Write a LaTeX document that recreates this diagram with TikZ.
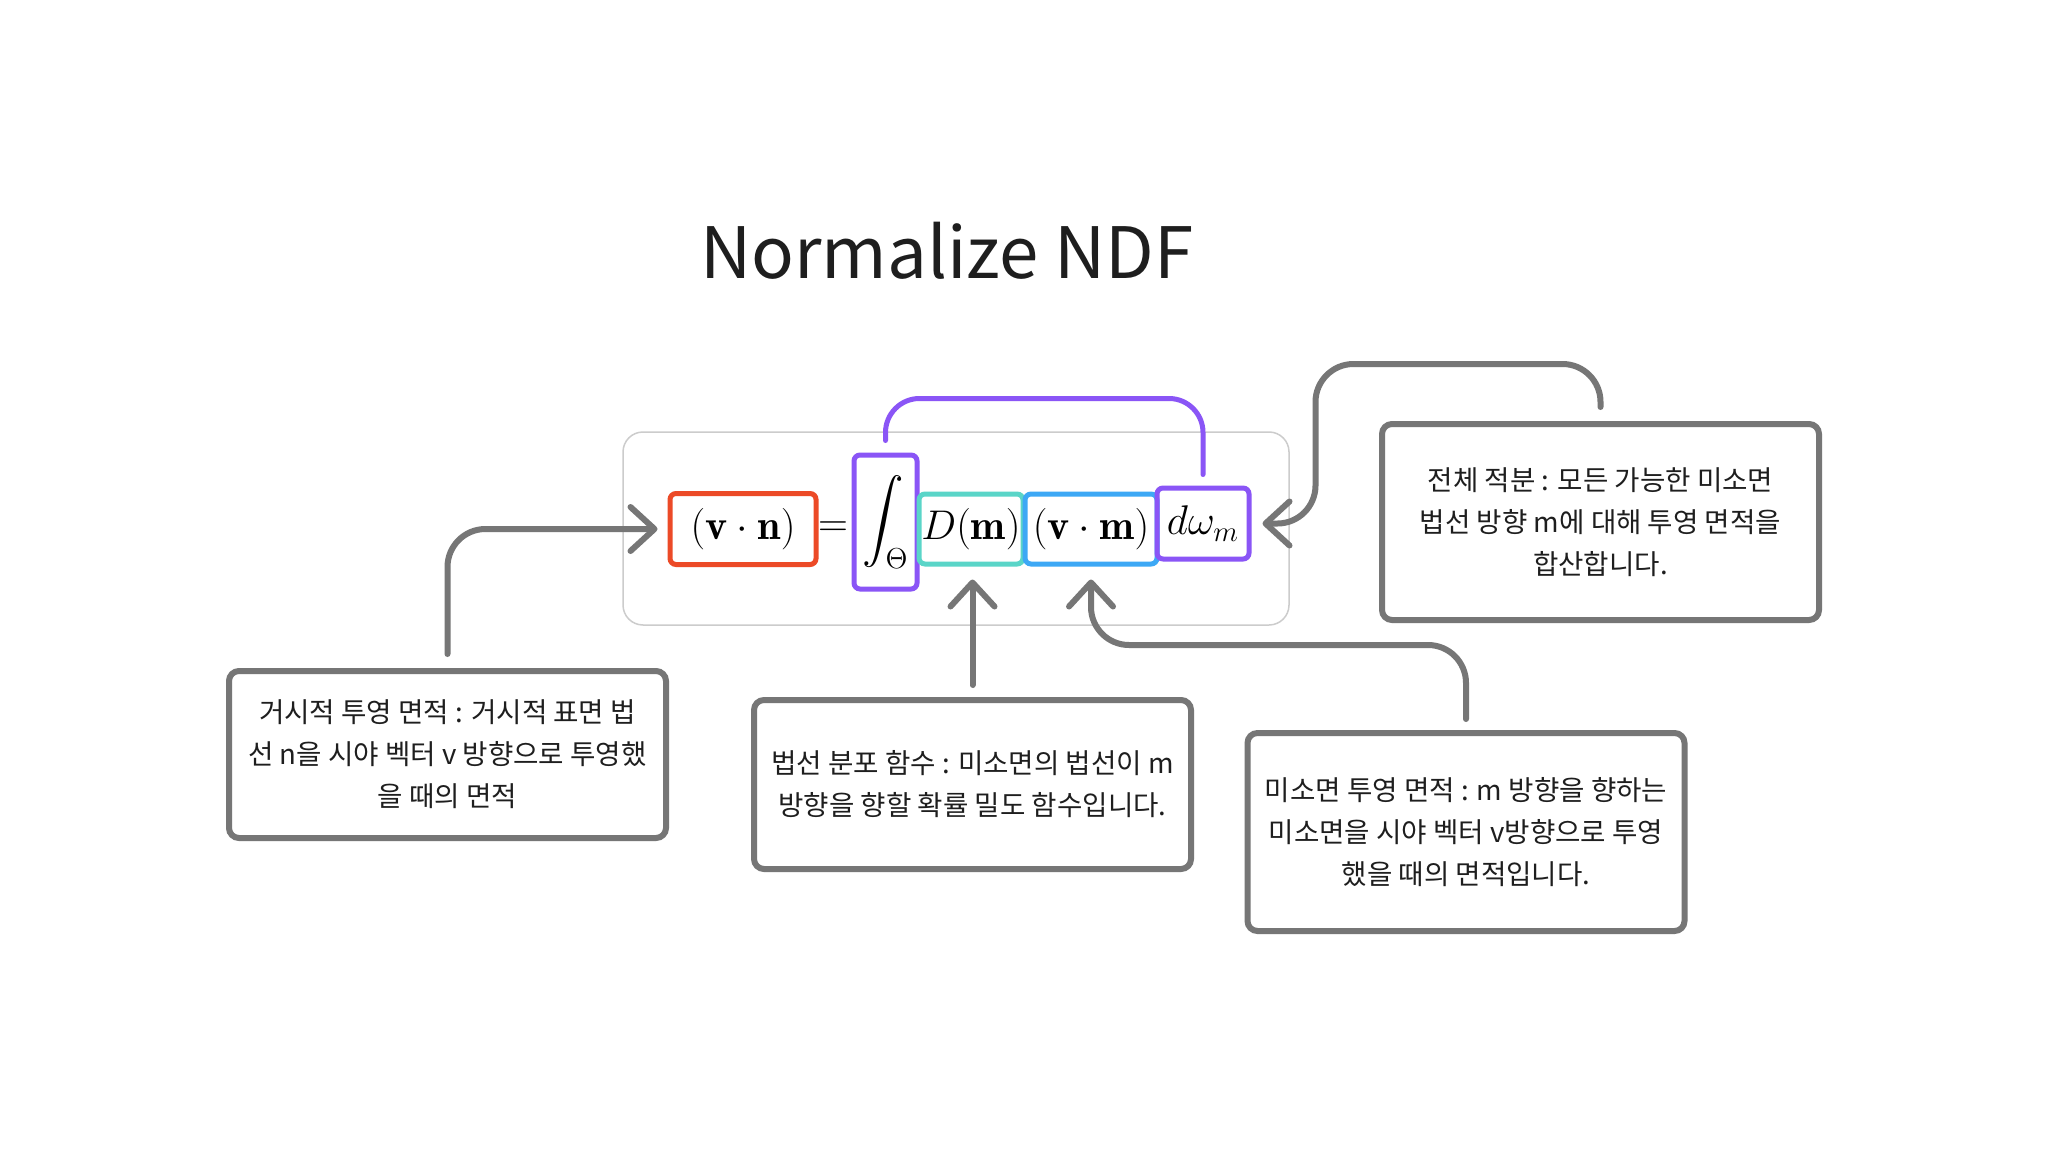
\documentclass[tikz,border=0pt]{standalone}
\usepackage{amsmath}
\usepackage{fontspec}
\usepackage{tikz}
\usetikzlibrary{positioning,arrows.meta}
\newfontfamily\krfont{Noto Sans CJK KR}
\definecolor{cred}{HTML}{EC4A27}
\definecolor{cviolet}{HTML}{8A55F6}
\definecolor{cteal}{HTML}{5AD5C8}
\definecolor{cblue}{HTML}{3DA8F5}
\definecolor{cline}{HTML}{767676}
\definecolor{cframe}{HTML}{CCCCCC}
\definecolor{ctxt}{HTML}{1E1E1E}
\newcommand{\nowidth}[1]{\makebox[0pt]{#1}}
\tikzset{
  term/.style={rectangle, rounded corners=3pt, line width=2.5pt, inner sep=0pt,
               font=\fontsize{21}{25}\selectfont},
  note/.style={rectangle, rounded corners=5pt, draw=cline, line width=3pt, fill=white,
               minimum width=218.5pt, align=center, text=ctxt,
               font=\krfont\fontsize{13.8}{21}\selectfont},
  link/.style={-{Straight Barb[length=12pt,width=22pt,round]}, line width=3pt, draw=cline,
               rounded corners=19pt, line cap=round},
  span/.style={line width=2.5pt, draw=cviolet, rounded corners=17pt, line cap=round}
}

\begin{document}
\begin{tikzpicture}[x=0.5pt, y=-0.5pt]
\useasboundingbox[fill=white] (0,0) rectangle (2048,1160);
\node[font=\krfont\fontsize{35.4}{40}\selectfont, text=ctxt, anchor=base] (title) at (947,279) {Normalize NDF};
% formula
\node[rectangle, rounded corners=10pt, draw=cframe, line width=0.75pt,
      minimum width=333pt, minimum height=96.5pt] (frame) at (956,528.5) {};
\node[term, draw=cred, minimum width=73pt, minimum height=35.5pt] (vn) at (743,529) {\nowidth{$(\mathbf{v}\cdot\mathbf{n})$}};
\node[font=\fontsize{21}{25}\selectfont, inner sep=0pt] (eq) at (833,529) {$=$};
\node[term, draw=cviolet, minimum width=31.5pt, minimum height=67pt] (int) at (885.5,522) {\nowidth{$\displaystyle\int_\Theta$}};
\node[term, draw=cteal, minimum width=52pt, minimum height=35pt] (dm) at (971,529) {\nowidth{$D(\mathbf{m})$}};
\node[term, draw=cblue, minimum width=66pt, minimum height=35pt] (vm) at (1091,529) {\nowidth{$(\mathbf{v}\cdot\mathbf{m})$}};
\node[term, draw=cviolet, minimum width=46pt, minimum height=35.5pt] (dw) at (1203,523.5) {\nowidth{$d\omega_m$}};
% notes
\node[note, minimum height=83.5pt] (macro) at (447.5,754.5) {거시적 투영 면적 : 거시적 표면 법\\선 n을 시야 벡터 v 방향으로 투영했\\을 때의 면적};
\node[note, minimum height=84.5pt] (ndf) at (972.5,784.5) {법선 분포 함수 : 미소면의 법선이 m\\방향을 향할 확률 밀도 함수입니다.};
\node[note, minimum height=99pt] (micro) at (1466,832) {미소면 투영 면적 : m 방향을 향하는\\미소면을 시야 벡터 v방향으로 투영\\했을 때의 면적입니다.};
\node[note, minimum height=98pt] (total) at (1600.5,522) {전체 적분 : 모든 가능한 미소면\\법선 방향 m에 대해 투영 면적을\\합산합니다.};
% connectors
\draw[span, shorten <=6pt, shorten >=5.5pt] (int.north) -- ++(0,-54) -| (dw.north);
\draw[link, shorten <=7pt, shorten >=5pt] (macro.north) |- (vn.west);
\draw[link, shorten <=6pt, shorten >=6.5pt] (ndf.north) -- (ndf.north |- dm.south);
\draw[link, shorten <=5.5pt, shorten >=6.5pt] (micro.north) -- ++(0,-85) -| (vm.south);
\draw[link, shorten <=7pt, shorten >=5.5pt] (total.north) -- ++(0,-57) -- ++(-285,0) |- (dw.east);
\end{tikzpicture}
\end{document}
